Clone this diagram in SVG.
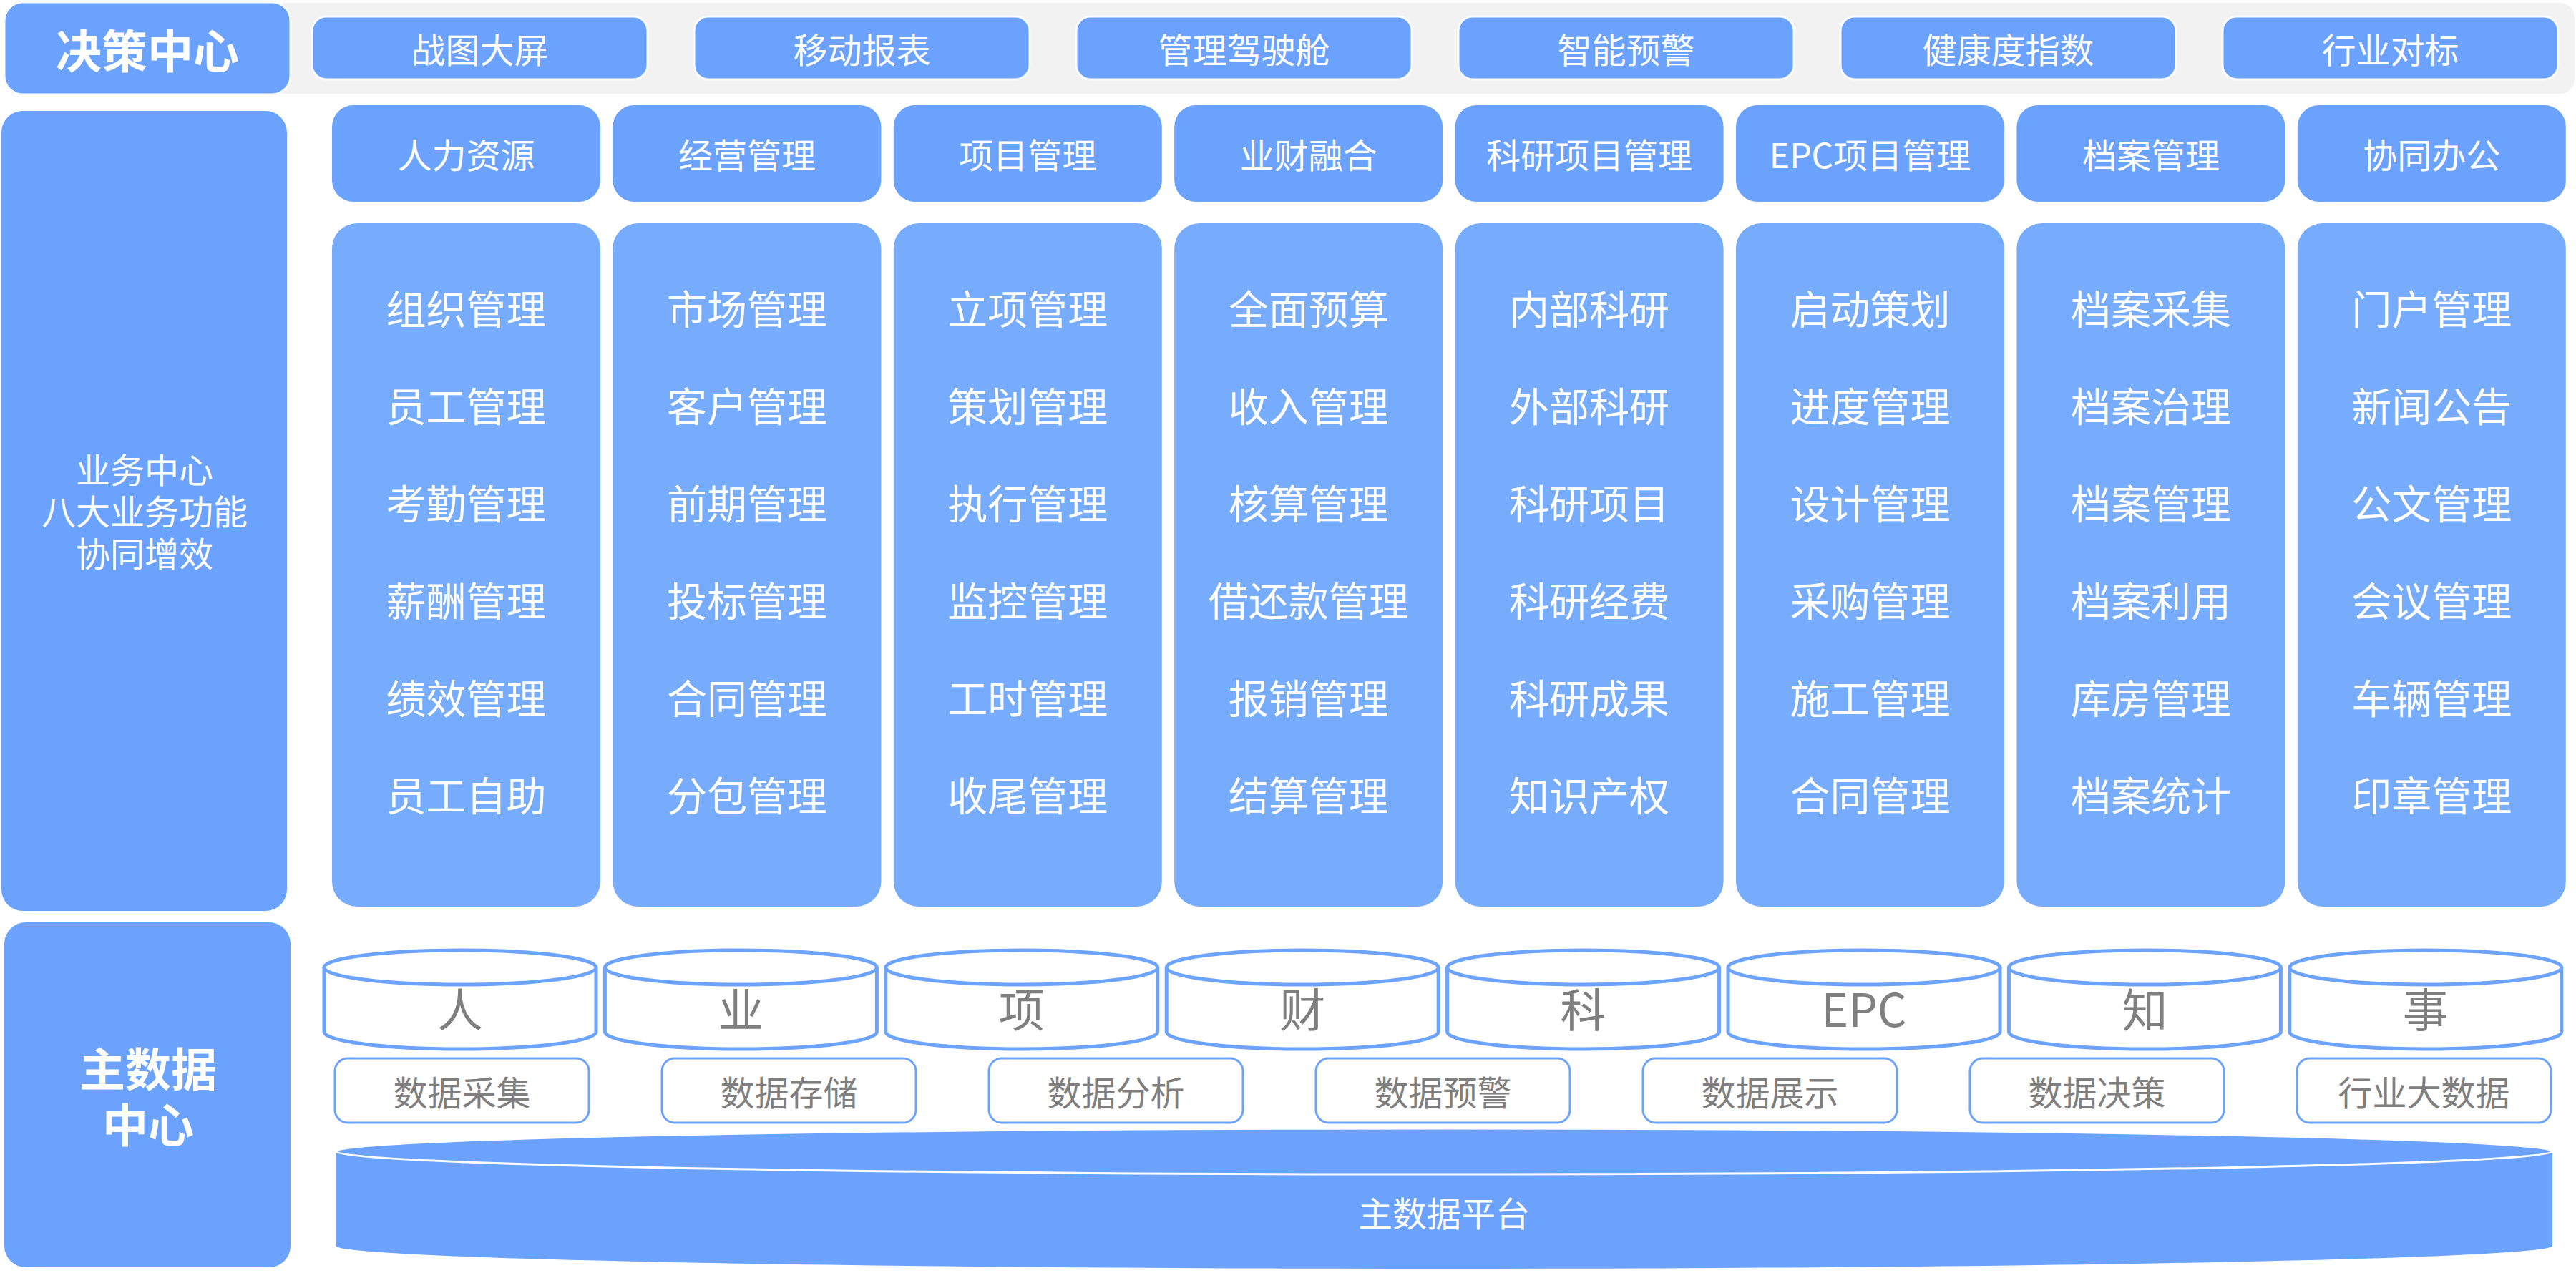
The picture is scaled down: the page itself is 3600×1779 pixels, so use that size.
<svg xmlns="http://www.w3.org/2000/svg" width="3600" height="1779" viewBox="0 0 3600 1779">
<style>
text{font-family:"Noto Sans CJK SC","Noto Sans",sans-serif;text-anchor:middle;dominant-baseline:central}
.blue{fill:#6BA2FE}
.card{fill:#77ACFD}
.topbox{fill:#6BA2FE;stroke:#F8FBFF;stroke-width:3}
.w{fill:#FFFFFF}
.t48{font-size:48px}
.t56{font-size:56px}
.big{font-size:64px;font-weight:bold;fill:#FFFFFF}
.cyl{fill:#FFFFFF;stroke:#6CA3FE;stroke-width:5}
.dbox{fill:#FFFFFF;stroke:#6CA3FE;stroke-width:3}
.g{fill:#7F7F7F}
</style>
<rect width="3600" height="1779" fill="#FFFFFF"/>

<!-- 决策中心 -->
<g id="decision-band">
<rect x="380" y="4" width="3218" height="127" rx="20" fill="#F2F2F2"/>
</g>
<g id="decision-center">
<rect x="6" y="3" width="400" height="129" rx="26" class="topbox"/>
<text x="206" y="67" class="big">决策中心</text>
</g>
<g id="top-1"><rect x="436" y="23" width="469" height="88" rx="20" class="topbox"/><text x="670.5" y="67" class="w t48">战图大屏</text></g>
<g id="top-2"><rect x="970" y="23" width="469" height="88" rx="20" class="topbox"/><text x="1204.5" y="67" class="w t48">移动报表</text></g>
<g id="top-3"><rect x="1504" y="23" width="469" height="88" rx="20" class="topbox"/><text x="1738.5" y="67" class="w t48">管理驾驶舱</text></g>
<g id="top-4"><rect x="2038" y="23" width="469" height="88" rx="20" class="topbox"/><text x="2272.5" y="67" class="w t48">智能预警</text></g>
<g id="top-5"><rect x="2572" y="23" width="469" height="88" rx="20" class="topbox"/><text x="2806.5" y="67" class="w t48">健康度指数</text></g>
<g id="top-6"><rect x="3106" y="23" width="469" height="88" rx="20" class="topbox"/><text x="3340.5" y="67" class="w t48">行业对标</text></g>

<!-- 业务中心 -->
<g id="business-center">
<rect x="2" y="155" width="399" height="1118" rx="30" class="blue"/>
<text class="w t48"><tspan x="202" y="654">业务中心</tspan><tspan x="202" y="712">八大业务功能</tspan><tspan x="202" y="771">协同增效</tspan></text>
</g>

<g id="col-1">
<rect x="464" y="147" width="375" height="135" rx="30" class="blue"/><text x="651.5" y="214" class="w t48">人力资源</text>
<rect x="464" y="312" width="375" height="955" rx="35" class="card"/>
<text x="651.5" y="428" class="w t56">组织管理</text><text x="651.5" y="564" class="w t56">员工管理</text><text x="651.5" y="700" class="w t56">考勤管理</text><text x="651.5" y="836" class="w t56">薪酬管理</text><text x="651.5" y="972" class="w t56">绩效管理</text><text x="651.5" y="1108" class="w t56">员工自助</text>
</g>
<g id="col-2">
<rect x="856.4" y="147" width="375" height="135" rx="30" class="blue"/><text x="1043.9" y="214" class="w t48">经营管理</text>
<rect x="856.4" y="312" width="375" height="955" rx="35" class="card"/>
<text x="1043.9" y="428" class="w t56">市场管理</text><text x="1043.9" y="564" class="w t56">客户管理</text><text x="1043.9" y="700" class="w t56">前期管理</text><text x="1043.9" y="836" class="w t56">投标管理</text><text x="1043.9" y="972" class="w t56">合同管理</text><text x="1043.9" y="1108" class="w t56">分包管理</text>
</g>
<g id="col-3">
<rect x="1248.8" y="147" width="375" height="135" rx="30" class="blue"/><text x="1436.3" y="214" class="w t48">项目管理</text>
<rect x="1248.8" y="312" width="375" height="955" rx="35" class="card"/>
<text x="1436.3" y="428" class="w t56">立项管理</text><text x="1436.3" y="564" class="w t56">策划管理</text><text x="1436.3" y="700" class="w t56">执行管理</text><text x="1436.3" y="836" class="w t56">监控管理</text><text x="1436.3" y="972" class="w t56">工时管理</text><text x="1436.3" y="1108" class="w t56">收尾管理</text>
</g>
<g id="col-4">
<rect x="1641.2" y="147" width="375" height="135" rx="30" class="blue"/><text x="1828.7" y="214" class="w t48">业财融合</text>
<rect x="1641.2" y="312" width="375" height="955" rx="35" class="card"/>
<text x="1828.7" y="428" class="w t56">全面预算</text><text x="1828.7" y="564" class="w t56">收入管理</text><text x="1828.7" y="700" class="w t56">核算管理</text><text x="1828.7" y="836" class="w t56">借还款管理</text><text x="1828.7" y="972" class="w t56">报销管理</text><text x="1828.7" y="1108" class="w t56">结算管理</text>
</g>
<g id="col-5">
<rect x="2033.6" y="147" width="375" height="135" rx="30" class="blue"/><text x="2221.1" y="214" class="w t48">科研项目管理</text>
<rect x="2033.6" y="312" width="375" height="955" rx="35" class="card"/>
<text x="2221.1" y="428" class="w t56">内部科研</text><text x="2221.1" y="564" class="w t56">外部科研</text><text x="2221.1" y="700" class="w t56">科研项目</text><text x="2221.1" y="836" class="w t56">科研经费</text><text x="2221.1" y="972" class="w t56">科研成果</text><text x="2221.1" y="1108" class="w t56">知识产权</text>
</g>
<g id="col-6">
<rect x="2426" y="147" width="375" height="135" rx="30" class="blue"/><text x="2613.5" y="214" class="w t48">EPC项目管理</text>
<rect x="2426" y="312" width="375" height="955" rx="35" class="card"/>
<text x="2613.5" y="428" class="w t56">启动策划</text><text x="2613.5" y="564" class="w t56">进度管理</text><text x="2613.5" y="700" class="w t56">设计管理</text><text x="2613.5" y="836" class="w t56">采购管理</text><text x="2613.5" y="972" class="w t56">施工管理</text><text x="2613.5" y="1108" class="w t56">合同管理</text>
</g>
<g id="col-7">
<rect x="2818.4" y="147" width="375" height="135" rx="30" class="blue"/><text x="3005.9" y="214" class="w t48">档案管理</text>
<rect x="2818.4" y="312" width="375" height="955" rx="35" class="card"/>
<text x="3005.9" y="428" class="w t56">档案采集</text><text x="3005.9" y="564" class="w t56">档案治理</text><text x="3005.9" y="700" class="w t56">档案管理</text><text x="3005.9" y="836" class="w t56">档案利用</text><text x="3005.9" y="972" class="w t56">库房管理</text><text x="3005.9" y="1108" class="w t56">档案统计</text>
</g>
<g id="col-8">
<rect x="3210.8" y="147" width="375" height="135" rx="30" class="blue"/><text x="3398.3" y="214" class="w t48">协同办公</text>
<rect x="3210.8" y="312" width="375" height="955" rx="35" class="card"/>
<text x="3398.3" y="428" class="w t56">门户管理</text><text x="3398.3" y="564" class="w t56">新闻公告</text><text x="3398.3" y="700" class="w t56">公文管理</text><text x="3398.3" y="836" class="w t56">会议管理</text><text x="3398.3" y="972" class="w t56">车辆管理</text><text x="3398.3" y="1108" class="w t56">印章管理</text>
</g>

<!-- 主数据中心 -->
<g id="master-data-center">
<rect x="6" y="1289" width="400" height="482" rx="30" class="blue"/>
<text class="big"><tspan x="207" y="1490">主数据</tspan><tspan x="207" y="1568">中心</tspan></text>
</g>

<g id="cyl-1"><path class="cyl" d="M453 1352 V1442 A190 24 0 0 0 833 1442 V1352"/><ellipse class="cyl" cx="643" cy="1352" rx="190" ry="24"/><text x="643" y="1407" class="g" font-size="64">人</text></g>
<g id="cyl-2"><path class="cyl" d="M845.4 1352 V1442 A190 24 0 0 0 1225.4 1442 V1352"/><ellipse class="cyl" cx="1035.4" cy="1352" rx="190" ry="24"/><text x="1035.4" y="1407" class="g" font-size="64">业</text></g>
<g id="cyl-3"><path class="cyl" d="M1237.8 1352 V1442 A190 24 0 0 0 1617.8 1442 V1352"/><ellipse class="cyl" cx="1427.8" cy="1352" rx="190" ry="24"/><text x="1427.8" y="1407" class="g" font-size="64">项</text></g>
<g id="cyl-4"><path class="cyl" d="M1630.2 1352 V1442 A190 24 0 0 0 2010.2 1442 V1352"/><ellipse class="cyl" cx="1820.2" cy="1352" rx="190" ry="24"/><text x="1820.2" y="1407" class="g" font-size="64">财</text></g>
<g id="cyl-5"><path class="cyl" d="M2022.6 1352 V1442 A190 24 0 0 0 2402.6 1442 V1352"/><ellipse class="cyl" cx="2212.6" cy="1352" rx="190" ry="24"/><text x="2212.6" y="1407" class="g" font-size="64">科</text></g>
<g id="cyl-6"><path class="cyl" d="M2415 1352 V1442 A190 24 0 0 0 2795 1442 V1352"/><ellipse class="cyl" cx="2605" cy="1352" rx="190" ry="24"/><text x="2605" y="1407" class="g" font-size="64">EPC</text></g>
<g id="cyl-7"><path class="cyl" d="M2807.4 1352 V1442 A190 24 0 0 0 3187.4 1442 V1352"/><ellipse class="cyl" cx="2997.4" cy="1352" rx="190" ry="24"/><text x="2997.4" y="1407" class="g" font-size="64">知</text></g>
<g id="cyl-8"><path class="cyl" d="M3199.8 1352 V1442 A190 24 0 0 0 3579.8 1442 V1352"/><ellipse class="cyl" cx="3389.8" cy="1352" rx="190" ry="24"/><text x="3389.8" y="1407" class="g" font-size="64">事</text></g>

<g id="data-1"><rect x="468" y="1479" width="355" height="90" rx="18" class="dbox"/><text x="645.5" y="1524" class="g t48">数据采集</text></g>
<g id="data-2"><rect x="925" y="1479" width="355" height="90" rx="18" class="dbox"/><text x="1102.5" y="1524" class="g t48">数据存储</text></g>
<g id="data-3"><rect x="1382" y="1479" width="355" height="90" rx="18" class="dbox"/><text x="1559.5" y="1524" class="g t48">数据分析</text></g>
<g id="data-4"><rect x="1839" y="1479" width="355" height="90" rx="18" class="dbox"/><text x="2016.5" y="1524" class="g t48">数据预警</text></g>
<g id="data-5"><rect x="2296" y="1479" width="355" height="90" rx="18" class="dbox"/><text x="2473.5" y="1524" class="g t48">数据展示</text></g>
<g id="data-6"><rect x="2753" y="1479" width="355" height="90" rx="18" class="dbox"/><text x="2930.5" y="1524" class="g t48">数据决策</text></g>
<g id="data-7"><rect x="3210" y="1479" width="355" height="90" rx="18" class="dbox"/><text x="3387.5" y="1524" class="g t48">行业大数据</text></g>

<g id="platform">
<path class="blue" d="M469 1609 V1741 A1549 32 0 0 0 3567 1741 V1609 Z"/>
<ellipse cx="2018" cy="1609" rx="1549" ry="32" fill="#6BA2FE" stroke="#FFFFFF" stroke-width="3"/>
<text x="2018" y="1693" class="w t48">主数据平台</text>
</g>

<g id="connectors"></g>
</svg>
